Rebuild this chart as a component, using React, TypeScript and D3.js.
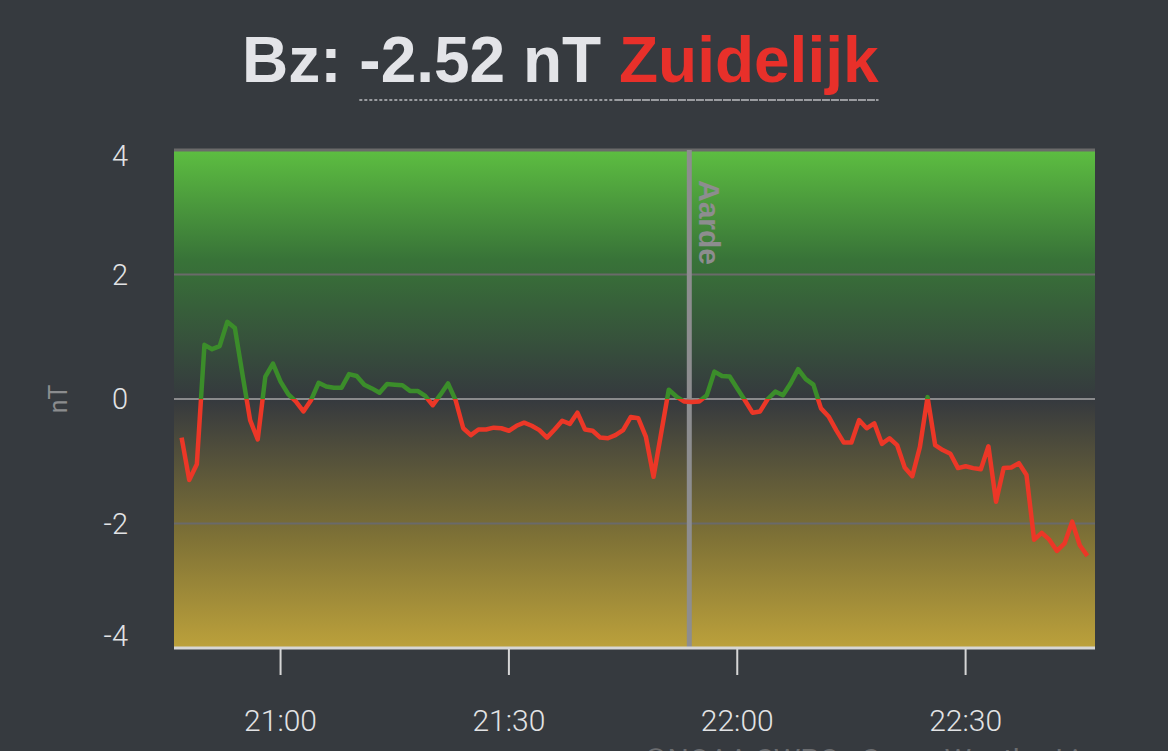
import { useEffect, useRef } from 'react';
import * as d3 from 'd3';

// Bz readings, one per minute starting at 20:47
const startTime = '20:47';
const bzValues = [
  -0.62, -1.3, -1.05, 0.87, 0.8, 0.85, 1.24, 1.14, 0.39, -0.34,
  -0.65, 0.36, 0.57, 0.28, 0.08, -0.04, -0.2, -0.02, 0.26, 0.2,
  0.18, 0.18, 0.4, 0.37, 0.23, 0.17, 0.1, 0.24, 0.23, 0.22,
  0.13, 0.13, 0.05, -0.1, 0.07, 0.25, -0.02, -0.47, -0.58, -0.49,
  -0.49, -0.46, -0.47, -0.51, -0.43, -0.38, -0.43, -0.5, -0.62, -0.49,
  -0.35, -0.4, -0.22, -0.49, -0.51, -0.62, -0.63, -0.58, -0.5, -0.29,
  -0.31, -0.61, -1.25, -0.55, 0.15, 0.04, -0.04, -0.05, -0.04, 0.06,
  0.44, 0.37, 0.36, 0.17, -0.02, -0.22, -0.2, 0.0, 0.12, 0.06,
  0.25, 0.48, 0.32, 0.23, -0.15, -0.28, -0.5, -0.7, -0.7, -0.34,
  -0.47, -0.39, -0.72, -0.63, -0.74, -1.1, -1.24, -0.77, 0.03, -0.74,
  -0.82, -0.88, -1.11, -1.08, -1.11, -1.13, -0.76, -1.65, -1.11, -1.1,
  -1.03, -1.22, -2.26, -2.15, -2.26, -2.44, -2.32, -1.97, -2.35, -2.52,
];
const xDomain = ['20:46', '22:47'];
const xTickLabels = ['21:00', '21:30', '22:00', '22:30'];
const yTicks = [-4, -2, 0, 2, 4];
const earthMinute = 21 * 60 + 53.7;
const currentValue = '-2.52 nT';
const direction = 'Zuidelijk';

const toMinutes = (s: string) => {
  const [h, m] = s.split(':').map(Number);
  return h * 60 + m;
};

const App = () => {
  const ref = useRef<SVGSVGElement>(null);

  useEffect(() => {
    if (!ref.current) return;
    const svg = d3.select(ref.current);
    svg.selectAll('*').remove();

    const W = 1168;
    const H = 751;
    const m = { left: 174, right: 1095, top: 150, bottom: 648 };

    svg.append('rect').attr('width', W).attr('height', H).attr('fill', '#363a3f');

    const x = d3.scaleLinear()
      .domain(xDomain.map(toMinutes))
      .range([m.left, m.right]);
    const y = d3.scaleLinear().domain([-4, 4]).range([m.bottom, m.top]);

    const defs = svg.append('defs');
    const grad = defs.append('linearGradient')
      .attr('id', 'bg').attr('x1', 0).attr('y1', 0).attr('x2', 0).attr('y2', 1);
    grad.append('stop').attr('offset', '0%').attr('stop-color', '#5dbe41');
    grad.append('stop').attr('offset', '22%').attr('stop-color', '#387338');
    grad.append('stop').attr('offset', '50%').attr('stop-color', '#35393e');
    grad.append('stop').attr('offset', '78%').attr('stop-color', '#7f7236');
    grad.append('stop').attr('offset', '100%').attr('stop-color', '#bca13b');

    defs.append('clipPath').attr('id', 'above')
      .append('rect')
      .attr('x', m.left).attr('y', m.top - 10)
      .attr('width', m.right - m.left).attr('height', y(0) - m.top + 10);
    defs.append('clipPath').attr('id', 'below')
      .append('rect')
      .attr('x', m.left).attr('y', y(0))
      .attr('width', m.right - m.left).attr('height', m.bottom - y(0) + 10);

    svg.append('rect')
      .attr('x', m.left).attr('y', m.top)
      .attr('width', m.right - m.left).attr('height', m.bottom - m.top)
      .attr('fill', 'url(#bg)');

    // grid
    svg.selectAll('line.grid')
      .data(yTicks.filter(d => d !== -4))
      .join('line')
      .attr('class', 'grid')
      .attr('x1', m.left).attr('x2', m.right)
      .attr('y1', d => y(d)).attr('y2', d => y(d))
      .attr('stroke', d => (d === 0 ? '#8a8a8c' : '#6a6a6a'))
      .attr('stroke-width', d => (d === 4 ? 3 : 2));

    // y labels
    svg.selectAll('text.ylab')
      .data(yTicks)
      .join('text')
      .attr('class', 'ylab')
      .attr('x', 128)
      .attr('y', d => y(d) + (d === 4 ? 6 : d === -4 ? -12 : 0))
      .attr('dy', '0.35em')
      .attr('text-anchor', 'end')
      .attr('fill', '#e2e3e5')
      .style('font-family', 'Roboto, "Liberation Sans", sans-serif')
      .style('font-size', '29px')
      .style('font-weight', 300)
      .text(d => String(d));

    svg.append('text')
      .attr('transform', `translate(67,${y(0)}) rotate(-90)`)
      .attr('text-anchor', 'middle')
      .attr('fill', '#8b8c8e')
      .style('font-family', 'Roboto, "Liberation Sans", sans-serif')
      .style('font-size', '25px')
      .text('nT');

    // earth line
    const ex = x(earthMinute);
    svg.append('line')
      .attr('x1', ex).attr('x2', ex).attr('y1', m.top).attr('y2', m.bottom)
      .attr('stroke', '#8d8d8f').attr('stroke-width', 5);
    svg.append('text')
      .attr('transform', `translate(${ex + 10},${m.top + 30}) rotate(90)`)
      .attr('fill', '#8d8d8f')
      .style('font-family', '"Liberation Sans", Arial, sans-serif')
      .style('font-size', '30px')
      .style('font-weight', 'bold')
      .text('Aarde');

    // line
    const start = toMinutes(startTime);
    const pts: [number, number][] = bzValues.map((v, i) => [x(start + i), y(v)]);
    const line = d3.line();
    svg.append('path')
      .attr('d', line(pts))
      .attr('fill', 'none')
      .attr('stroke', '#3b8d2a')
      .attr('stroke-width', 4.5)
      .attr('stroke-linejoin', 'round')
      .attr('clip-path', 'url(#above)');
    svg.append('path')
      .attr('d', line(pts))
      .attr('fill', 'none')
      .attr('stroke', '#ec3727')
      .attr('stroke-width', 4.5)
      .attr('stroke-linejoin', 'round')
      .attr('clip-path', 'url(#below)');

    // bottom axis
    svg.append('line')
      .attr('x1', m.left).attr('x2', m.right).attr('y1', m.bottom).attr('y2', m.bottom)
      .attr('stroke', '#d6d6d6').attr('stroke-width', 3);
    svg.selectAll('line.xtick')
      .data(xTickLabels)
      .join('line')
      .attr('class', 'xtick')
      .attr('x1', d => x(toMinutes(d))).attr('x2', d => x(toMinutes(d)))
      .attr('y1', m.bottom).attr('y2', m.bottom + 27)
      .attr('stroke', '#d6d6d6').attr('stroke-width', 2);
    svg.selectAll('text.xlab')
      .data(xTickLabels)
      .join('text')
      .attr('class', 'xlab')
      .attr('x', d => x(toMinutes(d)))
      .attr('y', 731)
      .attr('text-anchor', 'middle')
      .attr('fill', '#e2e3e5')
      .style('font-family', 'Roboto, "Liberation Sans", sans-serif')
      .style('font-size', '30px')
      .style('font-weight', 300)
      .text(d => d);

    // credit (cut off at bottom, as in the source)
    svg.append('text')
      .attr('x', 644).attr('y', 770)
      .attr('fill', '#6b6d70')
      .style('font-family', 'Roboto, "Liberation Sans", sans-serif')
      .style('font-size', '30px')
      .text('©NOAA SWPC - SpaceWeatherLive');

    // title
    const title = svg.append('text')
      .attr('x', 242).attr('y', 82)
      .style('font-family', '"Liberation Sans", Arial, sans-serif')
      .style('font-size', '64px')
      .style('font-weight', 'bold');
    title.append('tspan').attr('fill', '#e3e4e8').text('Bz: ');
    const valSpan = title.append('tspan').attr('fill', '#e3e4e8').text(currentValue);
    title.append('tspan').attr('fill', '#e3e4e8').text(' ');
    const dirSpan = title.append('tspan').attr('fill', '#e8302a').text(direction);

    const v = valSpan.node() as SVGTextContentElement;
    const dn = dirSpan.node() as SVGTextContentElement;
    const vStart = v.getStartPositionOfChar(0).x;
    const dStart = dn.getStartPositionOfChar(0).x;
    const dEnd = dn.getEndPositionOfChar(direction.length - 1).x;
    svg.append('line')
      .attr('x1', vStart).attr('x2', dStart - 4).attr('y1', 100).attr('y2', 100)
      .attr('stroke', '#9a9ca0').attr('stroke-width', 2).attr('stroke-dasharray', '3,2');
    svg.append('line')
      .attr('x1', dStart - 4).attr('x2', dEnd).attr('y1', 100).attr('y2', 100)
      .attr('stroke', '#9a9ca0').attr('stroke-width', 2).attr('stroke-dasharray', '8,1');
  }, []);

  return (
    <svg
      ref={ref}
      width={1168}
      height={751}
      style={{ position: 'fixed', top: 0, left: 0, display: 'block' }}
    />
  );
};

export default App;
